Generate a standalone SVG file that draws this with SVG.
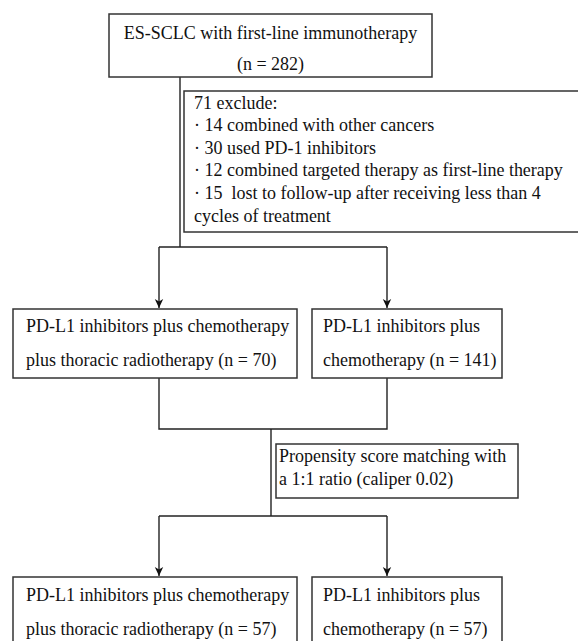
<svg xmlns="http://www.w3.org/2000/svg" width="578" height="641" viewBox="0 0 578 641">
<style>
.box{fill:#fff;stroke:#333;stroke-width:1.5}
.t{font-family:"Liberation Serif","Times New Roman",serif;font-size:19px;fill:#111}
.c{text-anchor:middle}
.ln{fill:none;stroke:#222;stroke-width:1.4}
</style>
<defs>
<marker id="ah" markerWidth="10" markerHeight="10" refX="9" refY="5" orient="auto" markerUnits="userSpaceOnUse">
<path d="M0,0.8 L9,5 L0,9.2 L2.5,5 Z" fill="#111"/>
</marker>
</defs>
<rect width="578" height="641" fill="#fff"/>
<g id="connectors">
<path class="ln" d="M180,77 V247"/>
<path class="ln" d="M159,247 H387"/>
<path class="ln" d="M159,247 V308" marker-end="url(#ah)"/>
<path class="ln" d="M387,247 V308" marker-end="url(#ah)"/>
<path class="ln" d="M159,378 V429 H387 V378"/>
<path class="ln" d="M271,429 V516"/>
<path class="ln" d="M159,516 H387"/>
<path class="ln" d="M159,516 V576" marker-end="url(#ah)"/>
<path class="ln" d="M387,516 V576" marker-end="url(#ah)"/>
</g>
<g id="n-start">
<rect class="box" x="109" y="14" width="323" height="63"/>
<text class="t c" transform="translate(270.5,39) scale(0.947,1)">ES-SCLC with first-line immunotherapy</text>
<text class="t c" transform="translate(270.5,70) scale(0.947,1)">(n = 282)</text>
</g>
<g id="n-exclude">
<rect class="box" x="184" y="91" width="410" height="141"/>
<text class="t" transform="translate(194,109) scale(0.947,1)">71 exclude:</text>
<text class="t" transform="translate(194,131) scale(0.947,1)">· 14 combined with other cancers</text>
<text class="t" transform="translate(194,154) scale(0.947,1)">· 30 used PD-1 inhibitors</text>
<text class="t" transform="translate(194,176) scale(0.947,1)">· 12 combined targeted therapy as first-line therapy</text>
<text class="t" transform="translate(194,199) scale(0.947,1)">· 15&#160; lost to follow-up after receiving less than 4</text>
<text class="t" transform="translate(194,222) scale(0.947,1)">cycles of treatment</text>
</g>
<g id="n-trt70">
<rect class="box" x="13" y="309" width="284" height="69"/>
<text class="t" transform="translate(26,332) scale(0.947,1)">PD-L1 inhibitors plus chemotherapy</text>
<text class="t" transform="translate(26,366) scale(0.947,1)">plus thoracic radiotherapy (n = 70)</text>
</g>
<g id="n-chemo141">
<rect class="box" x="312" y="309" width="190" height="69"/>
<text class="t" transform="translate(323,332) scale(0.947,1)">PD-L1 inhibitors plus</text>
<text class="t" transform="translate(323,366) scale(0.947,1)">chemotherapy (n = 141)</text>
</g>
<g id="n-psm">
<rect class="box" x="276" y="444" width="242" height="54"/>
<text class="t" transform="translate(279,462) scale(0.947,1)">Propensity score matching with</text>
<text class="t" transform="translate(279,485) scale(0.947,1)">a 1:1 ratio (caliper 0.02)</text>
</g>
<g id="n-trt57">
<rect class="box" x="13" y="577" width="284" height="80"/>
<text class="t" transform="translate(26,601) scale(0.947,1)">PD-L1 inhibitors plus chemotherapy</text>
<text class="t" transform="translate(26,635) scale(0.947,1)">plus thoracic radiotherapy (n = 57)</text>
</g>
<g id="n-chemo57">
<rect class="box" x="312" y="577" width="190" height="80"/>
<text class="t" transform="translate(323,601) scale(0.947,1)">PD-L1 inhibitors plus</text>
<text class="t" transform="translate(323,635) scale(0.947,1)">chemotherapy (n = 57)</text>
</g>
</svg>
